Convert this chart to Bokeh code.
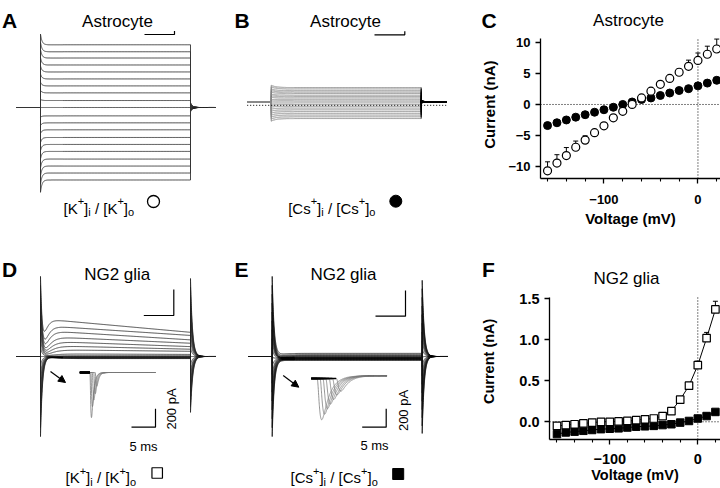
import numpy as np
from bokeh.plotting import figure
from bokeh.models import (Range1d, FixedTicker, PrintfTickFormatter,
                          Whisker, TeeHead, ColumnDataSource, Arrow, NormalHead)
from bokeh.layouts import row, column
from bokeh.embed import file_html
from bokeh.resources import INLINE
from bokeh.core.properties import value

FONT = "Liberation Sans"

# ===================== data =====================
voltage_mV = [-160, -150, -140, -130, -120, -110, -100, -90, -80, -70,
              -60, -50, -40, -30, -20, -10, 0, 10, 20]
# C: astrocyte I-V
astro_k_nA = [-10.7, -9.45, -8.25, -6.9, -5.75, -4.55, -3.45, -2.15, -1.1, 0.0,
              1.05, 2.15, 3.25, 4.2, 5.2, 6.15, 7.1, 8.1, 8.95]
astro_k_err = [1.45, 1.35, 1.3, 1.0, 0.7, 0.5, 0.4, 0.3, 0.3, 0.2,
               0.2, 0.3, 0.3, 0.4, 0.5, 1.0, 1.2, 1.3, 1.6]
astro_cs_nA = [-3.4, -2.95, -2.5, -2.05, -1.65, -1.25, -0.85, -0.45, 0.0, 0.4,
               0.8, 1.05, 1.45, 1.85, 2.25, 2.55, 3.0, 3.45, 3.9]
# F: NG2 glia I-V
ng2_k_nA = [-0.05, -0.04, -0.03, -0.02, -0.01, 0.0, 0.0, 0.005, 0.01, 0.02,
            0.03, 0.04, 0.07, 0.13, 0.27, 0.44, 0.69, 1.02, 1.37]
ng2_k_err = [0.01, 0.01, 0.01, 0.01, 0.01, 0.01, 0.01, 0.01, 0.01, 0.01,
             0.01, 0.01, 0.02, 0.02, 0.03, 0.04, 0.05, 0.07, 0.10]
ng2_cs_nA = [-0.15, -0.13, -0.12, -0.11, -0.10, -0.09, -0.085, -0.08, -0.07, -0.06,
             -0.055, -0.05, -0.04, -0.03, -0.01, 0.01, 0.04, 0.07, 0.12]

# A: astrocyte K+ current traces, steady step currents (nA)
trace_a_nA = [9.0, 8.0, 7.1, 6.1, 5.1, 4.1, 3.1, 2.1, 1.0, 0.0,
              -1.2, -2.2, -3.2, -4.3, -5.3, -6.3, -7.4, -8.4, -9.4, -10.4]
# B: astrocyte Cs+ current traces (nA), holding current
trace_b_nA = [2.05, 1.85, 1.6, 1.4, 1.2, 0.95, 0.75, 0.55, 0.3, 0.1,
              -0.15, -0.4, -0.65, -0.9, -1.15, -1.4, -1.65, -1.9, -2.15, -2.4]
b_holding_nA = 0.5
# D: NG2 glia K+ traces, peak and end-of-step currents (nA)
trace_d_peak_nA = [-0.08, -0.07, -0.06, -0.05, -0.04, -0.035, -0.03, -0.02, -0.01, 0.0,
                   0.03, 0.10, 0.26, 0.42, 0.59, 0.77, 1.0, 1.19, 1.45]
trace_d_end_nA = [-0.08, -0.07, -0.06, -0.05, -0.04, -0.035, -0.03, -0.02, -0.01, 0.0,
                  0.03, 0.08, 0.20, 0.28, 0.38, 0.51, 0.64, 0.81, 0.93]
# E: NG2 glia Cs+ traces (nA) and early inward dip (nA)
trace_e_nA = [-0.15, -0.13, -0.12, -0.11, -0.10, -0.09, -0.085, -0.08, -0.07, -0.06,
              -0.055, -0.05, -0.04, -0.03, -0.01, 0.01, 0.04, 0.07, 0.12]
trace_e_dip_nA = [0, 0, 0, 0, 0, 0, 0, 0, 0, 0,
                  0, 0, 0.05, 0.1, 0.15, 0.2, 0.22, 0.22, 0.2]
cap_peak_nA = 3.08          # capacitive transient for the largest (90 mV) step
v_hold_mV = -70
# insets: inward current peaks (pA) and latencies (ms)
d_inset_pA = [150, 230, 300, 370, 490]
d_inset_lat_ms = [3.2, 2.9, 2.6, 2.3, 2.1]
e_inset_pA = [460, 400, 340, 290, 240, 190, 150]
e_inset_lat_ms = [1.2, 1.8, 2.4, 3.0, 3.7, 4.4, 5.2]

# ===================== helpers =====================
T_PRE = np.linspace(-16.0, 0.0, 17)
T_ON = np.concatenate([np.linspace(0.0, 15.0, 301), np.linspace(15.5, 100.0, 170)])
T_OFF = np.concatenate([np.linspace(100.0, 112.0, 241), np.linspace(112.5, 117.0, 10)])
T_IN = np.linspace(0.0, 15.8, 791)

EM = {'[': 0.278, ']': 0.278, 'K': 0.667, 'C': 0.722, 's': 0.5, '+': 0.584,
      'i': 0.222, 'o': 0.556, '/': 0.278, ' ': 0.278}


def tw(txt, px):
    return sum(EM[c] for c in txt) * px


def canvas(w, h):
    p = figure(frame_width=w, frame_height=h, x_range=Range1d(0, w), y_range=Range1d(h, 0),
               x_axis_type=None, y_axis_type=None, toolbar_location=None, title=None,
               output_backend="svg", min_border=0)
    p.outline_line_color = None
    p._w, p._h = w, h
    return p


def add_scale(p, xname, yname, x0, ppx, y0, ppy):
    w, h = p._w, p._h
    xr = dict(p.extra_x_ranges)
    yr = dict(p.extra_y_ranges)
    xr[xname] = Range1d(-x0 / ppx, (w - x0) / ppx)
    yr[yname] = Range1d((y0 - h) / ppy, y0 / ppy)
    p.extra_x_ranges = xr
    p.extra_y_ranges = yr


def texts(p, x, y, txt, size, align="left", baseline="alphabetic", style="normal", angle=0.0):
    src = ColumnDataSource(dict(x=[x], y=[y], text=[txt]))
    p.text("x", "y", "text", source=src, text_font=value(FONT), text_font_size=size,
           text_align=align, text_baseline=baseline, text_font_style=style,
           angle=angle, text_color="black")


def ion_label(p, x0, y0, ion):
    big, small = 15, 11
    x = x0
    for part in ("i", "o"):
        if part == "o":
            x += tw(" ", big)
            texts(p, x, y0, "/", f"{big}px")
            x += tw("/ ", big)
        texts(p, x, y0, "[" + ion, f"{big}px")
        x += tw("[" + ion, big)
        texts(p, x, y0 - 7, "+", f"{small}px")
        x += tw("+", small)
        texts(p, x, y0, "]", f"{big}px")
        x += tw("]", big)
        texts(p, x, y0 + 4, part, f"{small}px")
        x += tw(part, small)


def act(t, tau):
    return (1 - np.exp(-t / tau)) ** 3


# ===================== A =====================
pA = canvas(234, 240)
add_scale(pA, "t", "i", 40, 1.5, 107, 6.97)
xs, ys = [], []
for amp in trace_a_nA:
    y = np.concatenate([np.zeros_like(T_PRE),
                        amp * (1 + 0.17 * np.exp(-T_ON / 1.0)),
                        -0.07 * amp * np.exp(-(T_OFF - 100) / 1.2)])
    xs.append(np.concatenate([T_PRE, T_ON, T_OFF]))
    ys.append(y)
pA.multi_line(xs, ys, x_range_name="t", y_range_name="i", line_color="#333333", line_width=0.9)
pA.line([144, 174, 174], [34, 34, 30.5], line_color="black", line_width=1.2)
texts(pA, 117, 20.5, "Astrocyte", "17px", align="center")
texts(pA, 1.5, 19.5, "A", "21px", style="bold")
ion_label(pA, 63, 207.7, "K")
pA.scatter([153], [201], marker="circle", size=12, fill_color="white", line_color="black", line_width=1.3)

# ===================== B (+ letter C and C's y label) =====================
pB = canvas(271, 240)
add_scale(pB, "t", "i", 36.7, 1.5, 108.3 - b_holding_nA * 6.97, 6.97)
xs1, ys1, xs2, ys2 = [], [], [], []
for amp in trace_b_nA:
    xs1.append(np.concatenate([T_PRE, T_ON]))
    ys1.append(np.concatenate([np.full_like(T_PRE, b_holding_nA),
                               b_holding_nA + amp * (1 + 0.16 * np.exp(-T_ON / 3.0))]))
    xs2.append(np.concatenate([[T_ON[-1]], T_OFF]))
    ys2.append(np.concatenate([[b_holding_nA + amp],
                               b_holding_nA - 0.12 * amp * np.exp(-(T_OFF - 100) / 1.5)]))
pB.multi_line(xs1, ys1, x_range_name="t", y_range_name="i", line_color="#8a8a8a", line_width=0.9)
pB.multi_line(xs2, ys2, x_range_name="t", y_range_name="i", line_color="black", line_width=0.9)
pB.line([T_PRE[0], T_OFF[-1]], [0, 0], x_range_name="t", y_range_name="i",
        line_color="black", line_width=1, line_dash="1 2")
pB.line([140, 170.3, 170.3], [34.3, 34.3, 30.8], line_color="black", line_width=1.2)
texts(pB, 111, 20.5, "Astrocyte", "17px", align="center")
texts(pB, 0, 19.5, "B", "21px", style="bold")
ion_label(pB, 53.7, 207.7, "Cs")
pB.scatter([161.3], [200.7], marker="circle", size=12, fill_color="black", line_color="black")
texts(pB, 247, 19.5, "C", "21px", style="bold")
texts(pB, 255, 104.2, "Current (nA)", "15px", align="center", baseline="middle",
      style="bold", angle=np.pi / 2)

# ===================== D =====================
pD = canvas(234, 248)
add_scale(pD, "t", "i", 40, 1.5, 116, 26.0)
max_pk = max(trace_d_peak_nA)
xs, ys = [], []
for v, pk, en in zip(voltage_mV, trace_d_peak_nA, trace_d_end_nA):
    cap = cap_peak_nA * (v - v_hold_mV) / 90.0
    tau_a = 2.0 + 3.0 * (1 - min(abs(pk) / max_pk, 1))
    on = cap * np.exp(-T_ON / 1.3) + act(T_ON, tau_a) * (pk + (en - pk) * T_ON / 100.0)
    off = -cap * np.exp(-(T_OFF - 100) / 1.3) + en * np.exp(-(T_OFF - 100) / 1.0)
    xs.append(np.concatenate([T_PRE, T_ON, T_OFF]))
    ys.append(np.concatenate([np.zeros_like(T_PRE), on, off]))
pD.multi_line(xs, ys, x_range_name="t", y_range_name="i", line_color="#222222", line_width=0.8)
# inset
add_scale(pD, "ti", "ii", 79.3, 4.8, 132, 18.4 / 200)
xs, ys, xb, yb = [], [], [], []
for a, lat in zip(d_inset_pA, d_inset_lat_ms):
    u = np.clip(T_IN - lat, 0, None)
    s = (1 - np.exp(-u / 0.15)) ** 3 * np.exp(-u / 0.4)
    cur = -a * s / s.max()
    xs.append(T_IN); ys.append(cur)
    m = T_IN <= min(d_inset_lat_ms)
    xb.append(T_IN[m]); yb.append(cur[m])
pD.multi_line(xs, ys, x_range_name="ti", y_range_name="ii", line_color="#7a7a7a", line_width=0.8)
pD.multi_line(xb, yb, x_range_name="ti", y_range_name="ii", line_color="black", line_width=1.8)
tc, ic = (155 - 79.3) / 4.8, (132 - 186.7) / (18.4 / 200)
pD.line([tc - 5, tc, tc], [ic, ic, ic + 200], x_range_name="ti", y_range_name="ii",
        line_color="black", line_width=1.2)
pD.line([143.3, 173.3, 173.3], [75, 75, 49], line_color="black", line_width=1.2)
texts(pD, 171, 168.5, "200 pA", "13px", align="center", baseline="middle", angle=np.pi / 2)
texts(pD, 143, 206, "5 ms", "13px", align="center")
pD.add_layout(Arrow(end=NormalHead(size=7, fill_color="black", line_color="black", line_width=1),
                    x_start=50, y_start=131, x_end=65, y_end=142,
                    line_color="black", line_width=1.2))
texts(pD, 116.7, 34.3, "NG2 glia", "17px", align="center")
texts(pD, 1.5, 28.5, "D", "21px", style="bold")
ion_label(pD, 65, 237, "K")
pD.scatter([156.7], [232.5], marker="square", size=10.5, fill_color="white", line_color="black", line_width=1.2)

# ===================== E (+ letter F and F's y label) =====================
pE = canvas(271, 248)
add_scale(pE, "t", "i", 37.7, 1.5, 116, 26.0)
xs, ys = [], []
for v, amp, dip in zip(voltage_mV, trace_e_nA, trace_e_dip_nA):
    cap = cap_peak_nA * (v - v_hold_mV) / 90.0
    on = (cap * np.exp(-T_ON / 1.3) + amp * (1 - np.exp(-T_ON / 0.5))
          - dip * (1 - np.exp(-T_ON / 1.0)) * np.exp(-T_ON / 4.0))
    off = -cap * np.exp(-(T_OFF - 100) / 1.3) + amp * np.exp(-(T_OFF - 100) / 0.5)
    xs.append(np.concatenate([T_PRE, T_ON, T_OFF]))
    ys.append(np.concatenate([np.zeros_like(T_PRE), on, off]))
pE.multi_line(xs, ys, x_range_name="t", y_range_name="i", line_color="#111111", line_width=0.8)
add_scale(pE, "ti", "ii", 76.7, 4.8, 138, 18.4 / 200)
xs, ys, xb, yb = [], [], [], []
for a, lat in zip(e_inset_pA, e_inset_lat_ms):
    u = np.clip(T_IN - lat, 0, None)
    s = (1 - np.exp(-u / 0.4)) ** 3 * np.exp(-u / 1.5)
    cur = -a * s / s.max() + 30 * (1 - np.exp(-u / 2.0))
    xs.append(T_IN); ys.append(cur)
    m = T_IN <= lat
    xb.append(T_IN[m]); yb.append(cur[m])
pE.multi_line(xs, ys, x_range_name="ti", y_range_name="ii", line_color="#7a7a7a", line_width=0.8)
pE.multi_line(xb, yb, x_range_name="ti", y_range_name="ii", line_color="black", line_width=1.6)
tc, ic = (151.7 - 76.7) / 4.8, (138 - 186.7) / (18.4 / 200)
pE.line([tc - 5, tc, tc], [ic, ic, ic + 200], x_range_name="ti", y_range_name="ii",
        line_color="black", line_width=1.2)
pE.line([141, 171, 171], [75.7, 75.7, 50], line_color="black", line_width=1.2)
texts(pE, 168.7, 170, "200 pA", "13px", align="center", baseline="middle", angle=np.pi / 2)
texts(pE, 140, 205, "5 ms", "13px", align="center")
pE.add_layout(Arrow(end=NormalHead(size=7, fill_color="black", line_color="black", line_width=1),
                    x_start=48.7, y_start=135, x_end=64.3, y_end=146.7,
                    line_color="black", line_width=1.2))
texts(pE, 109, 34.3, "NG2 glia", "17px", align="center")
texts(pE, 0, 28.5, "E", "21px", style="bold")
ion_label(pE, 56, 237, "Cs")
pE.scatter([163.7], [233.5], marker="square", size=11, fill_color="black", line_color="black")
texts(pE, 247.5, 29, "F", "21px", style="bold")
texts(pE, 254.4, 120.8, "Current (nA)", "14.5px", align="center", baseline="middle",
      style="bold", angle=np.pi / 2)


# ===================== I-V panels =====================
def iv_fig(w, h, xr, yr, bounds, left, bottom):
    p = figure(width=w, height=h, x_range=Range1d(*xr), y_range=Range1d(*yr),
               toolbar_location=None, output_backend="svg", title=None,
               min_border_left=left, min_border_right=0, min_border_top=0,
               min_border_bottom=bottom)
    p.outline_line_color = None
    p.xgrid.visible = False
    p.ygrid.visible = False
    p.xaxis.ticker = FixedTicker(ticks=[-100, 0],
                                 minor_ticks=[-160, -140, -120, -80, -60, -40, -20, 20])
    p.xaxis.axis_label = "Voltage (mV)"
    p.yaxis.axis_label = None
    p.yaxis.bounds = bounds
    for ax in (p.xaxis[0], p.yaxis[0]):
        ax.axis_line_color = "black"
        ax.axis_line_width = 1.3
        ax.major_tick_line_color = "black"
        ax.major_tick_line_width = 1.3
        ax.major_tick_in = 0
        ax.major_tick_out = 5
        ax.minor_tick_line_color = "black"
        ax.minor_tick_line_width = 1.1
        ax.minor_tick_in = 0
        ax.minor_tick_out = 3
        ax.major_label_text_font = FONT
        ax.major_label_text_font_style = "bold"
        ax.major_label_text_color = "black"
        ax.axis_label_text_font = FONT
        ax.axis_label_text_font_style = "bold"
        ax.axis_label_text_color = "black"
    # dotted zero lines
    p.line([0, 0], [yr[0], bounds[1]], line_color="black", line_width=1, line_dash="1 2")
    p.line([xr[0], xr[1]], [0, 0], line_color="black", line_width=1, line_dash="1 2")
    return p


# ----- C -----
CX, CY = (-167.5, 24.0), (-11.94, 16.77)
pC = iv_fig(215, 240, CX, CY, (-11.94, 10.65), 35, 62)
pC.yaxis.ticker = FixedTicker(ticks=[-10, -5, 0, 5, 10], minor_ticks=[])
for ax in (pC.xaxis[0], pC.yaxis[0]):
    ax.major_label_text_font_size = "13px"
    ax.axis_label_text_font_size = "15px"
pC.xaxis.major_label_standoff = 11
pC.xaxis.axis_label_standoff = 3
pC.yaxis.major_label_standoff = 5
srcC = ColumnDataSource(dict(x=voltage_mV, y=astro_k_nA,
                             up=[a + e for a, e in zip(astro_k_nA, astro_k_err)]))
pC.add_layout(Whisker(source=srcC, base="x", lower="y", upper="up", lower_head=None,
                      upper_head=TeeHead(size=5, line_width=1, line_color="black"),
                      line_color="black", line_width=1, level="underlay"))
pC.scatter(voltage_mV, astro_cs_nA, marker="circle", size=8, fill_color="black", line_color="black")
pC.scatter("x", "y", source=srcC, marker="circle", size=8, fill_color="white",
           line_color="black", line_width=1.2)
# title (page x 628, baseline y 20.5) in data units: 0.94 px/mV, 6.2 px/nA, 0 nA at y 104
texts(pC, CX[0] + (628 - 540) / 0.94, (104 - 20.5) / 6.2, "Astrocyte", "17px", align="center")

# ----- F -----
FX, FY = (-168.5, 25.8), (-0.216, 2.211)
pF = iv_fig(215, 248, FX, FY, (-0.216, 1.516), 44, 49)
pF.yaxis.ticker = FixedTicker(ticks=[0, 0.5, 1.0, 1.5], minor_ticks=[])
pF.yaxis.formatter = PrintfTickFormatter(format="%.1f")
for ax in (pF.xaxis[0], pF.yaxis[0]):
    ax.major_label_text_font_size = "14.5px"
    ax.axis_label_text_font_size = "14.5px"
pF.xaxis.major_label_standoff = 9
pF.xaxis.axis_label_standoff = 0
pF.yaxis.major_label_standoff = 5
srcF = ColumnDataSource(dict(x=voltage_mV, y=ng2_k_nA,
                             up=[a + e for a, e in zip(ng2_k_nA, ng2_k_err)]))
pF.add_layout(Whisker(source=srcF, base="x", lower="y", upper="up", lower_head=None,
                      upper_head=TeeHead(size=5, line_width=1, line_color="black"),
                      line_color="black", line_width=1, level="underlay"))
pF.line(voltage_mV, ng2_cs_nA, line_color="black", line_width=1)
pF.line(voltage_mV, ng2_k_nA, line_color="black", line_width=1)
pF.scatter(voltage_mV, ng2_cs_nA, marker="square", size=7.5, fill_color="black", line_color="black")
pF.scatter("x", "y", source=srcF, marker="square", size=7.5, fill_color="white",
           line_color="black", line_width=1.2)
# title (page x 626, baseline y 278.5): 0.88 px/mV, 82 px/nA, 0 nA at y 421.3
texts(pF, FX[0] + (626 - 549) / 0.88, (421.3 - 278.5) / 82, "NG2 glia", "17px", align="center")

layout = column(row(pA, pB, pC), row(pD, pE, pF))
open("out.html", "w").write(file_html(layout, INLINE))
